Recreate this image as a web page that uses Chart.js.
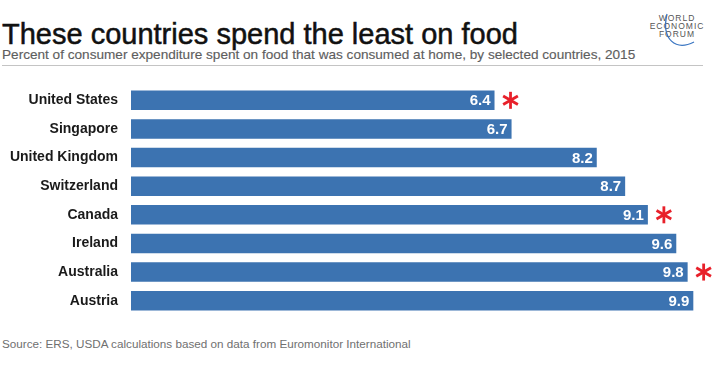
<!DOCTYPE html>
<html>
<head>
<meta charset="utf-8">
<script src="https://cdn.jsdelivr.net/npm/chart.js@4"></script>
<style>
  body { margin: 0; width: 720px; height: 367px; background: #fff; position: relative; overflow: hidden;
         font-family: "Liberation Sans", Arial, sans-serif; }
  #chart { position: absolute; left: 0; top: 0; }
  .txt { position: absolute; white-space: nowrap; line-height: 1; }
  #title { left: 2px; top: 19.5px; font-size: 29px; color: #111; -webkit-text-stroke: 0.5px #111; }
  #subtitle { left: 2px; top: 48.2px; font-size: 13.6px; color: #5e5e5e; -webkit-text-stroke: 0.15px #5e5e5e; }
  #rule { position: absolute; left: 2px; top: 65px; width: 701px; height: 1px; background: #c4c4c4; }
  #source { left: 2px; top: 337.5px; font-size: 11.7px; color: #707070; }
  #logo { left: 646px; top: 15px; width: 62px; text-align: center; font-size: 8.5px; line-height: 7.8px;
          letter-spacing: 1px; color: #555; }
  #swoosh { position: absolute; left: 0; top: 0; }
</style>
</head>
<body>
<div id="title" class="txt">These countries spend the least on food</div>
<div id="subtitle" class="txt">Percent of consumer expenditure spent on food that was consumed at home, by selected countries, 2015</div>
<div id="rule"></div>
<div id="logo" class="txt">WORLD<br>ECONOMIC<br>FORUM</div>
<svg id="swoosh" width="720" height="60"><path d="M 667 14 C 661 40, 676 51, 694 42" fill="none" stroke="#3b76c2" stroke-width="1.3"/></svg>
<div id="source" class="txt">Source: ERS, USDA calculations based on data from Euromonitor International</div>
<canvas id="chart" width="720" height="367"></canvas>
<script>
// Data
const countries = ['United States', 'Singapore', 'United Kingdom', 'Switzerland', 'Canada', 'Ireland', 'Australia', 'Austria'];
const foodShare = [6.4, 6.7, 8.2, 8.7, 9.1, 9.6, 9.8, 9.9];
const starred = ['United States', 'Canada', 'Australia'];

const BAR_BLUE = '#3c73b1';
const STAR_RED = '#e8202a';

function drawAsterisk(ctx, cx, cy, r) {
    ctx.save();
    ctx.strokeStyle = STAR_RED;
    ctx.lineWidth = 2.8;
    [90, 30, 150].forEach(deg => {
        const a = deg * Math.PI / 180;
        ctx.beginPath();
        ctx.moveTo(cx - r * Math.cos(a), cy - r * Math.sin(a));
        ctx.lineTo(cx + r * Math.cos(a), cy + r * Math.sin(a));
        ctx.stroke();
    });
    ctx.restore();
}

// values inside the bars + red asterisks after flagged bars
const barLabels = {
    id: 'barLabels',
    afterDatasetsDraw(chart) {
        const ctx = chart.ctx;
        const meta = chart.getDatasetMeta(0);
        ctx.save();
        ctx.font = 'bold 15px "Liberation Sans", Arial, sans-serif';
        ctx.fillStyle = '#fff';
        ctx.textAlign = 'right';
        ctx.textBaseline = 'middle';
        meta.data.forEach((bar, i) => {
            ctx.fillText(foodShare[i].toFixed(1), bar.x - 4, bar.y + 1);
            if (starred.includes(countries[i])) {
                drawAsterisk(ctx, bar.x + 16, bar.y, 8.5);
            }
        });
        ctx.restore();
    }
};

new Chart(document.getElementById('chart'), {
    type: 'bar',
    data: {
        labels: countries,
        datasets: [{
            data: foodShare,
            backgroundColor: BAR_BLUE,
            barPercentage: 0.68,
            categoryPercentage: 1
        }]
    },
    options: {
        indexAxis: 'y',
        responsive: false,
        animation: false,
        layout: { padding: { top: 86, bottom: 52, left: 0, right: 21 } },
        plugins: {
            legend: { display: false },
            tooltip: { enabled: false }
        },
        scales: {
            x: { display: false, min: 0, max: 10 },
            y: {
                grid: { display: false, drawTicks: false },
                border: { display: false },
                afterFit(scale) { scale.width = 131; },
                ticks: {
                    padding: 13,
                    color: '#1a1a1a',
                    font: { family: '"Liberation Sans", Arial, sans-serif', size: 14, weight: 'bold' }
                }
            }
        }
    },
    plugins: [barLabels]
});
</script>
</body>
</html>
